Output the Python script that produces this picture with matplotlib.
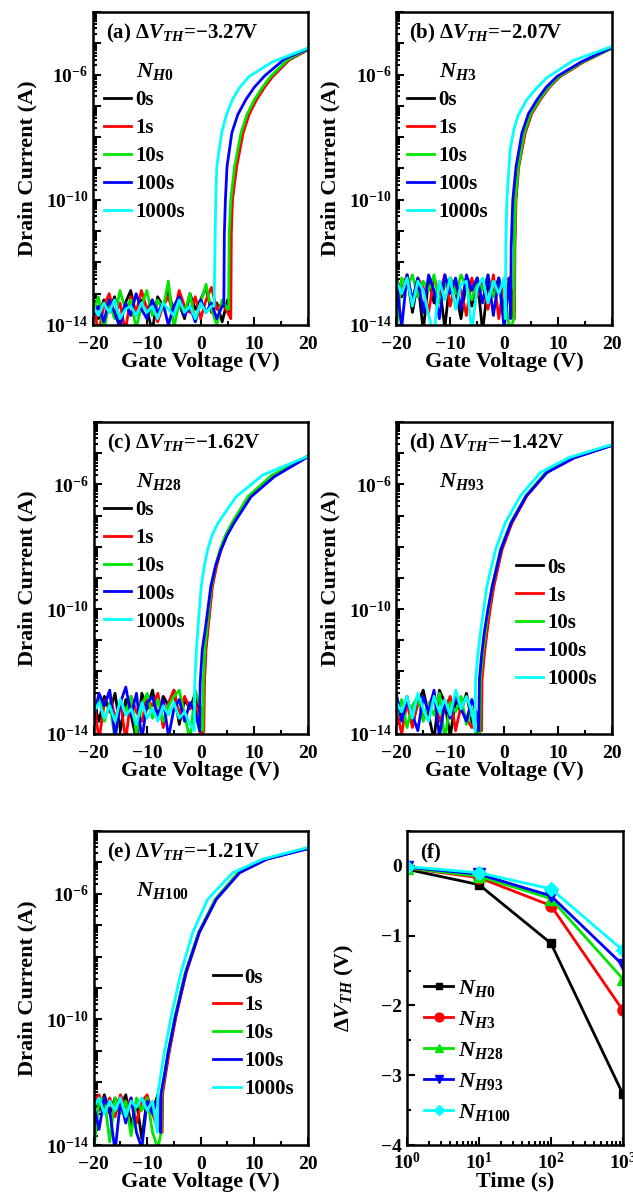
import numpy as np
import matplotlib
matplotlib.use('Agg')
import matplotlib.pyplot as plt
from matplotlib.ticker import FuncFormatter, LogLocator, MultipleLocator, NullFormatter

plt.rcParams['font.family'] = 'Liberation Serif'
plt.rcParams['font.weight'] = 'bold'
plt.rcParams['axes.labelweight'] = 'bold'
plt.rcParams['mathtext.fontset'] = 'custom'
plt.rcParams['mathtext.rm'] = 'Liberation Serif:bold'
plt.rcParams['mathtext.it'] = 'Liberation Serif:bold:italic'
plt.rcParams['mathtext.bf'] = 'Liberation Serif:bold'
plt.rcParams['axes.unicode_minus'] = True

times = ['0s', '1s', '10s', '100s', '1000s']
colors = ['black', '#ff0000', '#00e600', '#0000ff', '#00ffff']

# --- transfer curves, log10(Id) ---
# noise floor: one value per volt starting at -20 V
# on branch: (V, log10 Id) pairs

# (a) NH0
a_noise = [
    [-13.3, -13.8, -13.2, -13.6, -13.1, -13.9, -13.3, -12.9, -13.7, -13.2, -13.5, -14.2, -13.1, -13.4, -12.9, -13.6, -13.3, -13.8, -13.0, -13.5, -13.2, -12.8, -13.6, -13.3, -13.9, -13.2],
    [-13.2, -14.3, -13.4, -13.0, -13.7, -13.3, -14.2, -13.1, -13.6, -12.9, -13.5, -13.2, -13.9, -13.4, -13.1, -13.7, -12.9, -13.4, -13.6, -13.1, -13.8, -13.2, -12.8, -13.5, -13.3, -13.6],
    [-13.6, -13.1, -14.2, -13.3, -13.8, -12.9, -13.5, -13.2, -14.1, -13.4, -12.9, -13.7, -13.2, -13.5, -12.6, -14.1, -13.3, -13.6, -13.0, -13.9, -13.3, -12.7, -13.5, -14.0, -13.2, -13.5],
    [-13.7, -13.4, -13.9, -13.2, -13.6, -14.1, -13.3, -13.7, -13.0, -13.5, -13.8, -13.2, -13.6, -13.3, -14.0, -13.4, -13.1, -13.7, -13.4, -13.9, -13.2, -13.6, -13.3, -13.8, -13.4],
    [-13.4, -13.7, -13.3, -13.6, -13.2, -13.8, -13.5, -13.4, -13.7, -13.3, -13.6, -13.4, -13.8, -13.3, -13.5, -13.7, -13.2, -13.6, -13.4, -13.8, -13.3, -13.6, -13.4],
]
a_on_v = [
    [5.4, 5.5, 5.8, 6.5, 7.7, 8.8, 10.2, 11.7, 13.2, 16.4, 20],
    [5.6, 5.7, 5.9, 6.7, 7.9, 9.0, 10.4, 11.9, 13.4, 16.5, 20],
    [5.2, 5.3, 5.6, 6.3, 7.5, 8.6, 10.0, 11.5, 13.0, 16.2, 20],
    [4.3, 4.4, 4.6, 4.9, 5.8, 6.9, 8.4, 10.0, 11.9, 15.6, 20],
    [2.5, 2.7, 2.8, 3.0, 3.9, 4.8, 5.9, 7.3, 9.0, 13.3, 20],
]
a_on_log = [
    [-13.6, -11.2, -10.1, -9.0, -7.9, -7.3, -6.82, -6.42, -6.07, -5.53, -5.2],
    [-13.8, -11.1, -10.0, -8.94, -7.86, -7.28, -6.8, -6.4, -6.06, -5.52, -5.2],
    [-13.5, -11.1, -10.0, -8.94, -7.86, -7.28, -6.8, -6.4, -6.06, -5.52, -5.18],
    [-13.4, -11.1, -10.0, -8.94, -7.86, -7.28, -6.8, -6.4, -6.04, -5.5, -5.17],
    [-13.4, -11.1, -10.0, -8.94, -7.86, -7.28, -6.8, -6.4, -6.06, -5.6, -5.15],
]

# (b) NH3
b_noise = [
    [-12.5, -13.1, -12.4, -13.6, -12.6, -14.2, -12.5, -13.3, -12.7, -14.1, -12.5, -12.9, -13.8, -12.6, -13.4, -12.5, -14.2, -12.7, -13.0, -12.5, -13.5, -12.5],
    [-12.6, -12.9, -12.4, -13.3, -12.5, -12.8, -13.6, -12.5, -13.0, -12.4, -13.4, -12.6, -12.9, -13.7, -12.5, -13.1, -12.6, -13.5, -12.4, -13.8, -12.6, -12.5],
    [-14.2, -12.5, -12.8, -12.4, -13.1, -12.6, -12.9, -12.4, -13.3, -12.7, -12.5, -13.0, -12.4, -12.8, -13.2, -12.5, -12.9, -12.4, -13.1, -12.6, -12.8, -14.2],
    [-12.5, -14.1, -12.4, -13.2, -12.5, -13.6, -12.4, -12.9, -13.8, -12.4, -13.0, -12.5, -13.5, -12.4, -12.9, -12.5, -13.3, -12.4, -13.7, -12.5, -14.1, -12.5],
    [-12.6, -13.0, -12.5, -13.4, -12.6, -12.9, -13.7, -14.3, -12.6, -13.2, -12.5, -13.5, -12.7, -12.6, -14.2, -12.8, -12.5, -13.3, -12.6, -13.0, -12.5],
]
b_on_v = [
    [1.8, 1.9, 2.1, 2.6, 3.8, 5.0, 6.6, 8.3, 10.3, 14.6, 20],
    [1.9, 2.0, 2.2, 2.7, 3.9, 5.1, 6.7, 8.4, 10.4, 14.7, 20],
    [1.8, 1.9, 2.1, 2.6, 3.7, 4.9, 6.5, 8.2, 10.2, 14.5, 20],
    [1.2, 1.3, 1.6, 2.2, 3.3, 4.5, 6.1, 7.8, 9.8, 14.2, 20],
    [0.2, 0.3, 0.5, 1.1, 1.8, 2.6, 4.2, 5.9, 7.9, 12.8, 20],
]
b_on_log = [
    [-13.8, -11.5, -10.0, -8.94, -7.86, -7.25, -6.8, -6.4, -6.06, -5.6, -5.15],
    [-13.8, -11.5, -10.0, -8.94, -7.86, -7.25, -6.8, -6.4, -6.06, -5.6, -5.15],
    [-13.8, -11.5, -10.0, -8.94, -7.86, -7.25, -6.8, -6.4, -6.06, -5.6, -5.15],
    [-13.8, -11.5, -10.0, -8.94, -7.86, -7.25, -6.8, -6.4, -6.06, -5.6, -5.13],
    [-13.8, -11.5, -10.0, -8.4, -7.75, -7.3, -6.8, -6.45, -6.1, -5.55, -5.1],
]

# (c) NH28
c_noise = [
    [-13.0, -13.6, -12.8, -13.3, -12.7, -13.9, -12.9, -13.4, -14.2, -12.7, -13.2, -12.6, -13.5, -12.8, -13.1, -12.6, -13.7, -12.9, -13.2, -12.7, -13.4],
    [-12.9, -14.2, -13.0, -12.7, -13.5, -13.0, -14.2, -12.8, -13.3, -13.6, -12.9, -13.1, -12.7, -13.8, -13.0, -12.6, -13.4, -12.8, -13.2, -13.0, -14.1],
    [-13.2, -12.8, -13.6, -13.0, -14.2, -12.9, -13.3, -12.8, -14.0, -13.1, -12.7, -13.5, -12.9, -13.6, -13.1, -12.8, -12.6, -13.4, -14.2, -12.6, -13.2],
    [-13.5, -12.7, -13.1, -12.6, -14.1, -13.0, -12.5, -13.4, -12.7, -14.2, -13.0, -12.8, -13.5, -12.9, -14.1, -13.2, -12.9, -13.6, -13.0, -13.3],
    [-13.3, -13.0, -13.5, -13.1, -13.6, -12.9, -13.4, -13.2, -13.7, -13.0, -13.5, -13.2, -13.6, -13.1, -13.4, -13.0, -13.5, -13.3, -13.7],
]
c_on_v = [
    [0.5, 0.6, 0.9, 1.3, 2.1, 2.9, 3.7, 4.7, 5.9, 9.0, 13.4, 20],
    [0.6, 0.7, 1.0, 1.4, 2.2, 3.0, 3.8, 4.8, 6.0, 9.1, 13.5, 20],
    [0.4, 0.5, 0.8, 1.2, 2.0, 2.8, 3.6, 4.6, 5.8, 8.9, 13.2, 20],
    [-0.2, -0.1, 0.3, 0.9, 1.9, 2.8, 3.8, 4.9, 6.2, 9.4, 13.8, 20],
    [-1.2, -1.1, -0.8, -0.5, 0.1, 0.7, 1.3, 2.1, 3.2, 6.6, 11.6, 20],
]
c_on_log = [
    [-13.9, -12.4, -11.3, -10.6, -9.27, -8.6, -8.1, -7.65, -7.25, -6.4, -5.75, -5.1],
    [-13.9, -12.4, -11.3, -10.6, -9.27, -8.6, -8.1, -7.65, -7.25, -6.4, -5.75, -5.1],
    [-13.9, -12.4, -11.3, -10.6, -9.27, -8.6, -8.1, -7.65, -7.25, -6.38, -5.72, -5.1],
    [-13.9, -12.4, -11.3, -10.6, -9.27, -8.6, -8.1, -7.65, -7.25, -6.4, -5.75, -5.12],
    [-13.9, -12.4, -11.3, -10.6, -9.27, -8.6, -8.1, -7.65, -7.25, -6.4, -5.7, -5.1],
]

# (d) NH93
d_noise = [
    [-13.0, -13.4, -12.8, -13.7, -13.0, -12.6, -13.4, -14.2, -12.6, -13.0, -14.1, -12.9, -13.3, -12.7, -13.6, -14.0],
    [-13.2, -14.0, -13.0, -13.8, -12.9, -13.5, -13.1, -12.7, -13.6, -13.2, -12.8, -13.9, -13.1, -13.5, -13.8, -13.4],
    [-13.5, -12.9, -13.8, -13.1, -12.8, -13.6, -13.0, -13.4, -12.7, -14.2, -13.0, -13.3, -12.8, -13.7, -13.2, -14.2],
    [-12.7, -13.6, -12.9, -13.4, -13.9, -12.8, -13.3, -12.6, -14.1, -13.0, -13.5, -12.8, -13.2, -13.6, -12.9, -13.4],
    [-13.0, -13.3, -12.8, -13.5, -12.7, -13.2, -13.6, -12.8, -13.3, -12.9, -13.4, -12.6, -13.2, -12.8, -13.3],
]
d_on_v = [
    [-4.3, -4.2, -3.8, -3.3, -2.7, -2.0, -0.5, 1.35, 4.1, 7.8, 12.8, 20],
    [-4.2, -4.1, -3.7, -3.2, -2.6, -1.9, -0.4, 1.45, 4.2, 7.9, 12.9, 20],
    [-4.5, -4.4, -4.0, -3.5, -2.9, -2.2, -0.7, 1.2, 4.0, 7.7, 12.8, 20],
    [-4.7, -4.6, -4.2, -3.7, -3.0, -2.2, -0.6, 1.3, 4.1, 7.9, 13.0, 20],
    [-5.4, -5.3, -4.9, -4.4, -3.8, -3.2, -1.6, 0.2, 3.0, 6.7, 12.0, 20],
]
d_on_log = [
    [-13.9, -12.26, -11.5, -10.76, -10.0, -9.26, -8.09, -7.23, -6.37, -5.62, -5.14, -4.74],
    [-13.9, -12.26, -11.5, -10.76, -10.0, -9.26, -8.09, -7.23, -6.37, -5.62, -5.14, -4.74],
    [-13.9, -12.26, -11.5, -10.76, -10.0, -9.26, -8.09, -7.23, -6.37, -5.62, -5.14, -4.74],
    [-13.9, -12.26, -11.5, -10.76, -10.0, -9.26, -8.09, -7.23, -6.37, -5.62, -5.15, -4.75],
    [-13.9, -12.26, -11.5, -10.76, -10.0, -9.26, -8.09, -7.23, -6.37, -5.62, -5.14, -4.72],
]

# (e) NH100
e_noise = [
    [-12.5, -12.9, -12.4, -13.0, -12.5, -12.8, -12.4, -13.4, -12.6, -13.8, -12.5, -12.9, -12.4],
    [-12.6, -12.4, -12.9, -12.5, -13.1, -12.4, -12.8, -12.5, -13.3, -12.6, -12.4, -13.0, -13.5],
    [-14.2, -12.6, -12.5, -13.9, -12.5, -13.0, -12.6, -13.7, -12.5, -12.9, -12.5, -13.6, -14.1],
    [-12.7, -13.5, -12.5, -12.9, -14.2, -12.6, -13.3, -12.5, -13.6, -14.1, -12.6, -13.0, -12.5],
    [-12.8, -12.5, -13.0, -12.6, -12.9, -12.5, -13.1, -12.6, -12.8, -12.5, -12.9, -12.6],
]
e_on_v = [
    [-7.3, -7.2, -6.6, -6.0, -4.7, -2.8, -0.35, 2.8, 7.1, 12.1, 20],
    [-7.2, -7.1, -6.5, -5.9, -4.6, -2.7, -0.25, 2.9, 7.2, 12.2, 20],
    [-7.4, -7.3, -6.7, -6.1, -4.8, -2.9, -0.4, 2.7, 7.0, 12.1, 20],
    [-7.5, -7.4, -6.7, -6.1, -4.7, -2.8, -0.3, 2.9, 7.3, 12.4, 20],
    [-8.1, -8.0, -7.4, -6.8, -5.5, -3.7, -1.5, 1.3, 6.0, 11.6, 20],
]
e_on_log = [
    [-13.6, -12.35, -11.7, -11.07, -9.9, -8.52, -7.24, -6.18, -5.33, -4.9, -4.56],
    [-13.6, -12.35, -11.7, -11.07, -9.9, -8.52, -7.24, -6.18, -5.33, -4.9, -4.56],
    [-13.6, -12.35, -11.7, -11.07, -9.9, -8.52, -7.24, -6.18, -5.33, -4.9, -4.56],
    [-13.6, -12.35, -11.7, -11.07, -9.9, -8.52, -7.24, -6.18, -5.33, -4.9, -4.57],
    [-13.6, -12.35, -11.7, -11.07, -9.9, -8.52, -7.24, -6.18, -5.33, -4.9, -4.53],
]

panel_tags = ['(a)', '(b)', '(c)', '(d)', '(e)']
panel_dvth = ['\u22123.27V', '\u22122.07V', '\u22121.62V', '\u22121.42V', '\u22121.21V']
panel_samples = ['H0', 'H3', 'H28', 'H93', 'H100']

# --- (f) threshold shift vs stress time ---
stress_time = [1, 10, 100, 1000]
dvth_h0 = [-0.05, -0.27, -1.11, -3.27]
dvth_h3 = [-0.03, -0.17, -0.57, -2.07]
dvth_h28 = [-0.03, -0.15, -0.47, -1.62]
dvth_h93 = [-0.02, -0.12, -0.43, -1.42]
dvth_h100 = [-0.01, -0.10, -0.33, -1.21]

FS = 14
LFS = 16
DVTH = r'$\mathit{\u0394V}_{\mathit{TH}}$'.replace('\\u0394', '\u0394')


def style_axes(ax):
    for sp in ax.spines.values():
        sp.set_linewidth(1.8)
    ax.tick_params(which='both', direction='in', top=False, right=False,
                   labelsize=FS, width=1.5)
    ax.tick_params(which='major', length=6)
    ax.tick_params(which='minor', length=3)
    ax.tick_params(axis='x', which='major', pad=8)


def log_label(val, pos):
    e = int(round(np.log10(val)))
    if e in (-14, -10, -6):
        return r'$10^{%d}$' % e
    return ''


def draw_transfer(ax, noise, on_v, on_log, tag, dvth, sample, leg_anchor):
    for k in range(5):
        v = list(np.arange(len(noise[k])) - 20) + on_v[k]
        lg = noise[k] + on_log[k]
        ax.plot(v, 10.0 ** np.array(lg), color=colors[k], lw=2.0, label=times[k])
    ax.set_yscale('log')
    ax.set_xlim(-20, 20)
    ax.set_ylim(1e-14, 1e-4)
    ax.xaxis.set_major_locator(MultipleLocator(10))
    ax.xaxis.set_minor_locator(MultipleLocator(5))
    ax.yaxis.set_major_locator(LogLocator(base=10, numticks=20))
    ax.yaxis.set_minor_locator(LogLocator(base=10, subs=np.arange(2, 10), numticks=20))
    ax.yaxis.set_major_formatter(FuncFormatter(log_label))
    ax.yaxis.set_minor_formatter(NullFormatter())
    style_axes(ax)
    ax.set_xlabel('Gate Voltage (V)', fontsize=LFS, labelpad=-1)
    ax.set_ylabel('Drain Current (A)', fontsize=LFS, labelpad=6)
    ax.text(0.06, 0.93, tag + ' ' + DVTH + '=' + dvth,
            transform=ax.transAxes, fontsize=FS + 1, va='center', ha='left')
    ax.text(0.2, 0.81, r'$N_{%s}$' % sample, transform=ax.transAxes,
            fontsize=FS + 2, va='center', ha='left')
    ax.legend(loc='upper left', bbox_to_anchor=leg_anchor, frameon=False,
              fontsize=FS + 1, handlelength=1.3, handletextpad=0.2,
              labelspacing=0.38, borderpad=0, borderaxespad=0)


fig = plt.figure(figsize=(6.33, 11.99), dpi=100)

ax_a = fig.add_axes([0.147, 0.729, 0.340, 0.261])
ax_b = fig.add_axes([0.626, 0.729, 0.341, 0.261])
ax_c = fig.add_axes([0.148, 0.388, 0.338, 0.260])
ax_d = fig.add_axes([0.626, 0.388, 0.341, 0.260])
ax_e = fig.add_axes([0.148, 0.045, 0.338, 0.262])
ax_f = fig.add_axes([0.643, 0.045, 0.341, 0.262])

draw_transfer(ax_a, a_noise, a_on_v, a_on_log, panel_tags[0], panel_dvth[0], panel_samples[0], (0.05, 0.75))
draw_transfer(ax_b, b_noise, b_on_v, b_on_log, panel_tags[1], panel_dvth[1], panel_samples[1], (0.05, 0.75))
draw_transfer(ax_c, c_noise, c_on_v, c_on_log, panel_tags[2], panel_dvth[2], panel_samples[2], (0.05, 0.75))
draw_transfer(ax_d, d_noise, d_on_v, d_on_log, panel_tags[3], panel_dvth[3], panel_samples[3], (0.555, 0.565))
draw_transfer(ax_e, e_noise, e_on_v, e_on_log, panel_tags[4], panel_dvth[4], panel_samples[4], (0.56, 0.565))

# (f)
f_series = [dvth_h0, dvth_h3, dvth_h28, dvth_h93, dvth_h100]
f_markers = ['s', 'o', '^', 'v', 'D']
f_sizes = [6, 8, 8, 8, 7]
for k in range(5):
    ax_f.plot(stress_time, f_series[k], color=colors[k], marker=f_markers[k],
              ms=f_sizes[k], lw=2.0, label=r'$N_{%s}$' % panel_samples[k])
ax_f.set_xscale('log')
ax_f.set_xlim(1, 1000)
ax_f.set_ylim(-4, 0.5)
ax_f.yaxis.set_major_locator(MultipleLocator(1))
ax_f.yaxis.set_minor_locator(MultipleLocator(0.5))
ax_f.yaxis.set_major_formatter(FuncFormatter(lambda v, p: ('%d' % v).replace('-', '\u2212')))
ax_f.xaxis.set_major_locator(LogLocator(base=10, numticks=10))
ax_f.xaxis.set_minor_locator(LogLocator(base=10, subs=np.arange(2, 10), numticks=10))
ax_f.xaxis.set_major_formatter(FuncFormatter(lambda v, p: r'$10^{%d}$' % int(round(np.log10(v)))))
ax_f.xaxis.set_minor_formatter(NullFormatter())
style_axes(ax_f)
ax_f.tick_params(axis='x', which='major', pad=5)
ax_f.set_xlabel('Time (s)', fontsize=LFS, labelpad=-1)
ax_f.set_ylabel(DVTH + ' (V)', fontsize=LFS, labelpad=18)
ax_f.text(0.06, 0.93, '(f)', transform=ax_f.transAxes, fontsize=FS + 1, va='center')
ax_f.legend(loc='lower left', bbox_to_anchor=(0.08, 0.07), frameon=False,
            fontsize=FS + 2, handlelength=1.3, handletextpad=0.2, markerscale=0.8,
            labelspacing=0.45, borderpad=0, borderaxespad=0)

fig.savefig('out.png', dpi=100)
